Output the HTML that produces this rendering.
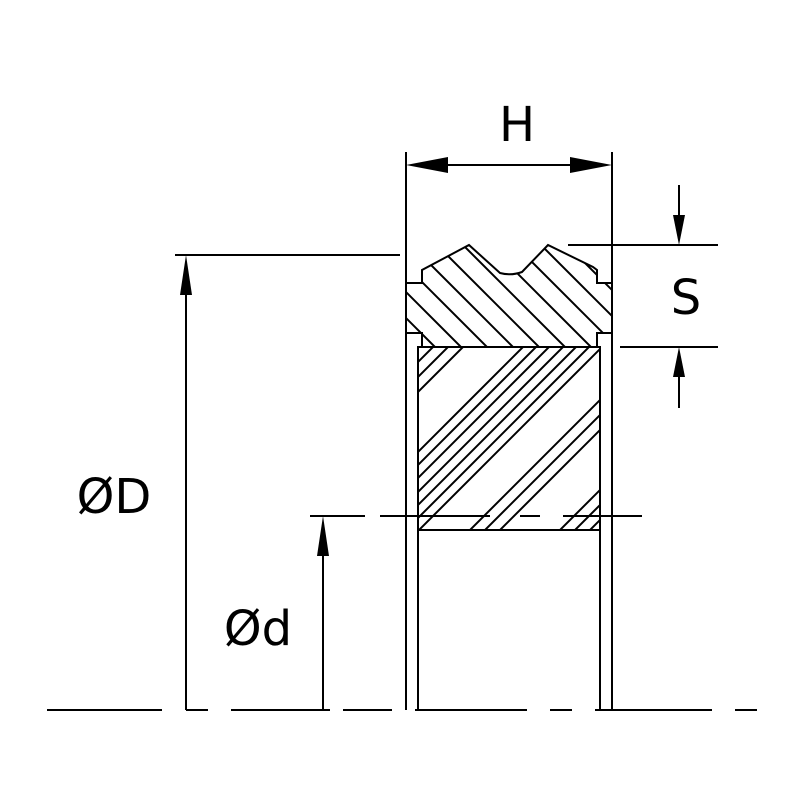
<!DOCTYPE html>
<html><head><style>body{margin:0;background:#fff}svg{display:block}</style></head><body>
<svg width="800" height="800" viewBox="0 0 800 800" xmlns="http://www.w3.org/2000/svg">
<defs>
<clipPath id="up"><path d="M406,283 L422,283 L422,270 L469,245 L500,273 Q511,276 522,272 L548,245 L593,267 L597,270 L597,283 L612,283 L612,333 L597,333 L597,347 L422,347 L422,333 L406,333 Z"/></clipPath>
<clipPath id="lo"><rect x="418" y="347" width="182" height="183"/></clipPath>
</defs>
<g stroke="#000" fill="none" stroke-width="2">
<g clip-path="url(#up)">
<line x1="340" y1="200" x2="500" y2="360"/><line x1="366" y1="200" x2="526" y2="360"/><line x1="392" y1="200" x2="552" y2="360"/><line x1="418" y1="200" x2="578" y2="360"/><line x1="444" y1="200" x2="604" y2="360"/><line x1="470" y1="200" x2="630" y2="360"/><line x1="496" y1="200" x2="656" y2="360"/><line x1="522" y1="200" x2="682" y2="360"/><line x1="314" y1="200" x2="474" y2="360"/><line x1="288" y1="200" x2="448" y2="360"/>
</g>
<g clip-path="url(#lo)">
<line x1="400" y1="380" x2="450" y2="330"/><line x1="400" y1="395" x2="470" y2="325"/><line x1="400" y1="410" x2="490" y2="320"/>
<line x1="400" y1="470" x2="540" y2="330"/><line x1="400" y1="483" x2="550" y2="333"/><line x1="400" y1="496" x2="560" y2="336"/><line x1="400" y1="510" x2="570" y2="340"/>
<line x1="400" y1="523" x2="610" y2="313"/><line x1="400" y1="536" x2="620" y2="316"/><line x1="400" y1="549" x2="630" y2="319"/>
<line x1="440" y1="560" x2="660" y2="340"/><line x1="455" y1="560" x2="675" y2="340"/><line x1="470" y1="560" x2="690" y2="340"/>
<line x1="530" y1="560" x2="720" y2="370"/><line x1="545" y1="560" x2="735" y2="370"/><line x1="560" y1="560" x2="750" y2="370"/><line x1="575" y1="560" x2="765" y2="370"/>
</g>
<path d="M406,283 L422,283 L422,270 L469,245 L500,273 Q511,276 522,272 L548,245 L593,267 L597,270 L597,283 L612,283 L612,333 L597,333 L597,347 L422,347 L422,333 L406,333"/>
<rect x="418" y="347" width="182" height="183"/>
<line x1="406" y1="152" x2="406" y2="710"/><line x1="612" y1="152" x2="612" y2="710"/>
<line x1="418" y1="347" x2="418" y2="710"/><line x1="600" y1="347" x2="600" y2="710"/>
<line x1="420" y1="165" x2="598" y2="165"/>
<line x1="568" y1="245" x2="718" y2="245"/><line x1="620" y1="347" x2="718" y2="347"/>
<line x1="679" y1="185" x2="679" y2="225"/><line x1="679" y1="368" x2="679" y2="408"/>
<line x1="175" y1="255" x2="400" y2="255"/><line x1="186" y1="290" x2="186" y2="710"/>
<line x1="323" y1="550" x2="323" y2="710"/>
<path d="M310,516 H365 M380,516 H490 M520,516 H540 M563,516 H642"/>
<path d="M47,710 H162 M186,710 H208 M231,710 H330 M343,710 H392 M415,710 H527 M550,710 H572 M595,710 H712 M735,710 H757"/>
</g>
<g fill="#000">
<polygon points="406,165 448,157 448,173"/><polygon points="612,165 570,157 570,173"/>
<polygon points="679,245 673,215 685,215"/><polygon points="679,347 673,377 685,377"/>
<polygon points="186,255 180,295 192,295"/><polygon points="323,516 317,556 329,556"/>
</g>
<g font-family="DejaVu Sans, sans-serif" font-size="48" fill="#000">
<text x="517" y="141" text-anchor="middle">H</text>
<text x="686" y="314" text-anchor="middle">S</text>
<text x="114" y="513" text-anchor="middle">ØD</text>
<text x="258" y="645" text-anchor="middle">Ød</text>
</g>
</svg>
</body></html>
